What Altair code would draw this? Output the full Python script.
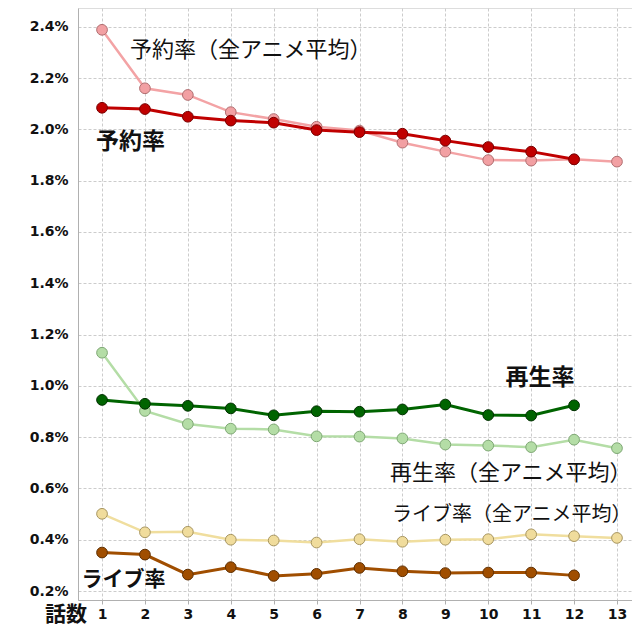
import altair as alt
import pandas as pd

episodes = list(range(1, 14))

yoyaku = [2.084, 2.079, 2.049, 2.034, 2.026, 1.997, 1.989, 1.983, 1.956, 1.931, 1.913, 1.883]
yoyaku_avg = [2.388, 2.160, 2.134, 2.067, 2.040, 2.010, 1.995, 1.948, 1.913, 1.880, 1.878, 1.883, 1.874]
saisei = [0.945, 0.930, 0.922, 0.912, 0.885, 0.901, 0.899, 0.908, 0.927, 0.886, 0.884, 0.924]
saisei_avg = [1.129, 0.902, 0.851, 0.833, 0.830, 0.803, 0.802, 0.795, 0.771, 0.767, 0.761, 0.790, 0.757]
live = [0.350, 0.342, 0.264, 0.293, 0.259, 0.267, 0.290, 0.277, 0.270, 0.272, 0.272, 0.261]
live_avg = [0.501, 0.429, 0.431, 0.400, 0.397, 0.389, 0.402, 0.392, 0.400, 0.402, 0.421, 0.414, 0.407]

y_ticks = [0.2, 0.4, 0.6, 0.8, 1.0, 1.2, 1.4, 1.6, 1.8, 2.0, 2.2, 2.4]

# (name, values, line colour, marker fill, marker stroke, line width)
series = [
    ("予約率（全アニメ平均）", yoyaku_avg, "#F3A3A5", "#F2A0A3", "#B06E70", 2.5),
    ("再生率（全アニメ平均）", saisei_avg, "#B4DDA6", "#B4DDA6", "#7FA875", 2.5),
    ("ライブ率（全アニメ平均）", live_avg, "#F0DE9E", "#F0DC9C", "#A89660", 2.5),
    ("予約率", yoyaku, "#C00000", "#C00000", "#7A0000", 3),
    ("再生率", saisei, "#006400", "#006400", "#003000", 3),
    ("ライブ率", live, "#A04E00", "#A04E00", "#5E2E00", 3),
]

# text, x, y, align, weight, size
labels = [
    ("予約率（全アニメ平均）", 1.65, 2.31, "left", "normal", 22),
    ("予約率", 0.86, 1.95, "left", "bold", 23),
    ("再生率", 10.4, 1.03, "left", "bold", 23),
    ("再生率（全アニメ平均）", 13.34, 0.662, "right", "normal", 22),
    ("ライブ率（全アニメ平均）", 13.34, 0.497, "right", "normal", 20),
    ("ライブ率", 0.52, 0.243, "left", "bold", 21),
    ("話数", 0.16, 0.105, "center", "bold", 21),
]

xscale = alt.Scale(domain=[0.44, 13.35], nice=False, zero=False)
yscale = alt.Scale(domain=[0.165, 2.473], nice=False, zero=False)

xaxis = alt.Axis(values=episodes, title=None, grid=True, gridDash=[3, 2], gridColor="#cccccc",
                 domainColor="#b0b0b0", tickColor="#b0b0b0", tickSize=4,
                 labelFont="DejaVu Sans", labelFontWeight="bold", labelFontSize=14,
                 labelColor="#111111", labelPadding=3)
yaxis = alt.Axis(values=y_ticks, title=None, grid=True, gridDash=[3, 2], gridColor="#cccccc",
                 domainColor="#b0b0b0", tickColor="#b0b0b0", tickSize=0,
                 labelExpr="format(datum.value, '.1f') + '%'",
                 labelFont="DejaVu Sans", labelFontWeight="bold", labelFontSize=14,
                 labelColor="#111111", labelPadding=10)

layers = []
first = True
for name, vals, lc, fc, sc, lw in series:
    df = pd.DataFrame({"話数": episodes[:len(vals)], "値": vals})
    if first:
        xenc = alt.X("話数:Q", scale=xscale, axis=xaxis)
        yenc = alt.Y("値:Q", scale=yscale, axis=yaxis)
        first = False
    else:
        xenc = alt.X("話数:Q", scale=xscale)
        yenc = alt.Y("値:Q", scale=yscale)
    base = alt.Chart(df).encode(x=xenc, y=yenc)
    layers.append(base.mark_line(color=lc, strokeWidth=lw))
    layers.append(base.mark_point(shape="circle", filled=True, size=115, fill=fc, stroke=sc,
                                  strokeWidth=1, opacity=1))

for text, x, y, align, weight, size in labels:
    sub = pd.DataFrame({"text": [text], "x": [x], "y": [y]})
    layers.append(
        alt.Chart(sub).mark_text(align=align, baseline="middle", font="Noto Sans CJK JP",
                                 fontSize=size, fontWeight=weight, color="#111111", clip=False)
        .encode(x=alt.X("x:Q", scale=xscale), y=alt.Y("y:Q", scale=yscale), text="text:N")
    )

chart = alt.layer(*layers).properties(
    width=554, height=592,
    autosize=alt.AutoSizeParams(type="none"),
    padding={"left": 70, "top": 0, "right": 0, "bottom": 32},
).configure_view(stroke=None).configure(background="white")

chart.save("out.html", embed_options={"renderer": "svg", "actions": False})
